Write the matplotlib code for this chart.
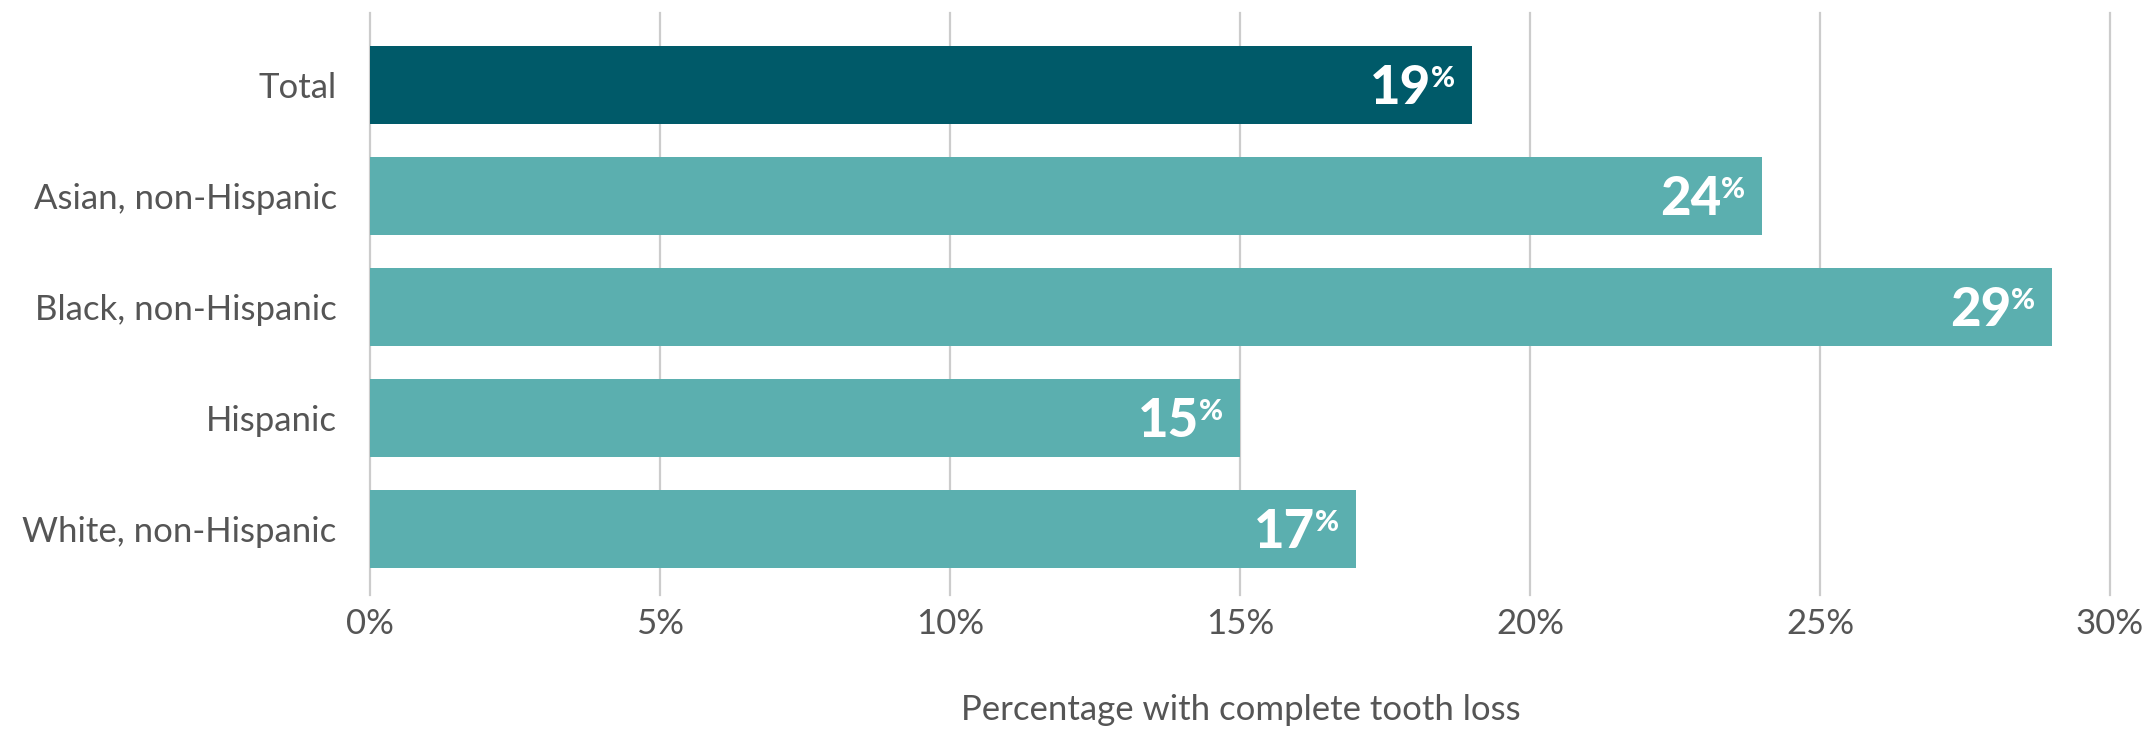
import matplotlib
matplotlib.use('Agg')
import matplotlib.pyplot as plt
import numpy as np

plt.rcParams['font.family'] = ['Lato', 'DejaVu Sans']

groups = ['Total', 'Asian, non-Hispanic', 'Black, non-Hispanic', 'Hispanic', 'White, non-Hispanic']
values = [19, 24, 29, 15, 17]
ticks = [0, 5, 10, 15, 20, 25, 30]

dark = '#005a69'
teal = '#5bafaf'
gray = '#555555'
px = 72 / 100  # points per pixel

fig = plt.figure(figsize=(21.55, 7.3), dpi=100)
ax = fig.add_axes([370 / 2155, 1 - 595 / 730, (2110 - 370) / 2155, (595 - 13) / 730])

y = np.arange(len(groups))
colors = [dark] + [teal] * (len(groups) - 1)
ax.barh(y, values, height=0.71, color=colors, zorder=2)

for yi, v in zip(y, values):
    # number, then a raised smaller percent sign
    ax.annotate(str(v), xy=(v, yi), xytext=(-41 * px, -19 * px), textcoords='offset points',
                ha='right', va='baseline', color='white', fontsize=38, fontweight='black', zorder=3)
    ax.annotate('%', xy=(v, yi), xytext=(-17 * px, -2 * px), textcoords='offset points',
                ha='right', va='baseline', color='white', fontsize=21, fontweight='black', zorder=3)

ax.set_xlim(0, 30)
ax.set_ylim(4.595, -0.649)
ax.set_xticks(ticks)
ax.set_xticklabels([f'{t}%' for t in ticks])
ax.set_yticks(y)
ax.set_yticklabels(groups)
ax.tick_params(axis='x', length=0, pad=9.5, labelsize=25, labelcolor=gray)
ax.tick_params(axis='y', length=0, pad=24, labelsize=25, labelcolor=gray)

ax.grid(axis='x', color='#cccccc', linewidth=1.6, zorder=0)
for line in ax.get_xgridlines():
    line.set_clip_on(False)
ax.set_axisbelow(True)
for s in ax.spines.values():
    s.set_visible(False)

fig.text(1241 / 2155, 1 - 710 / 730, 'Percentage with complete tooth loss',
         ha='center', va='center', fontsize=25, color=gray)

fig.savefig('out.png', dpi=100, facecolor='white')
